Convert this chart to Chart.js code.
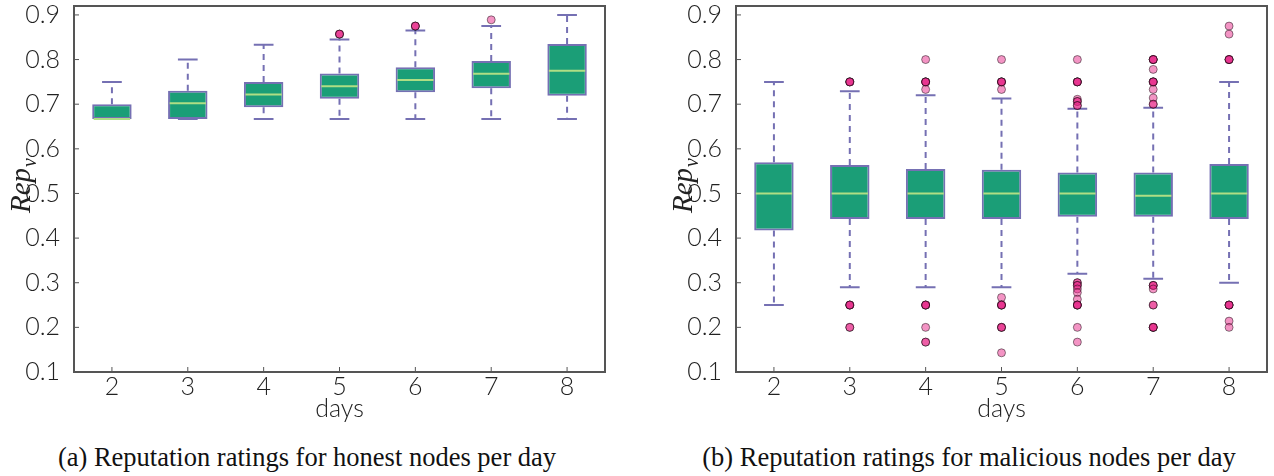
<!DOCTYPE html>
<html>
<head>
<meta charset="utf-8">
<script src="https://cdn.jsdelivr.net/npm/chart.js@4.4.0/dist/chart.umd.min.js"></script>
<style>
  html, body { margin: 0; padding: 0; background: #fff; }
  body { width: 1274px; height: 476px; position: relative; overflow: hidden; }
  .panel { position: absolute; top: 0; width: 637px; height: 430px; }
  .caption {
    position: absolute; top: 442px; line-height: 30px;
    font-family: "Liberation Serif", serif; font-size: 26.5px; color: #111;
    white-space: nowrap; transform: translateX(-50%);
  }
</style>
</head>
<body>
<div class="panel" style="left:0"><canvas id="honestChart" width="637" height="430"></canvas></div>
<div class="panel" style="left:662px"><canvas id="maliciousChart" width="637" height="430"></canvas></div>
<div class="caption" style="left:307px">(a) Reputation ratings for honest nodes per day</div>
<div class="caption" style="left:969px">(b) Reputation ratings for malicious nodes per day</div>

<script>
// --- DATA ---
const days = ['2', '3', '4', '5', '6', '7', '8'];
const yTicks = [0.1, 0.2, 0.3, 0.4, 0.5, 0.6, 0.7, 0.8, 0.9];

// honest nodes
const honestLow = [0.667, 0.667, 0.667, 0.667, 0.667, 0.667, 0.667];
const honestQ1 = [0.667, 0.667, 0.693, 0.712, 0.727, 0.736, 0.719];
const honestMedian = [0.667, 0.702, 0.722, 0.740, 0.754, 0.768, 0.775];
const honestQ3 = [0.700, 0.730, 0.750, 0.769, 0.783, 0.797, 0.835];
const honestHigh = [0.750, 0.800, 0.833, 0.845, 0.865, 0.875, 0.900];
// [day, value, how many points overlap there]
const honestOutliers = [[5, 0.857, 3], [6, 0.875, 3], [7, 0.889, 1]];

// malicious nodes
const maliciousLow = [0.250, 0.290, 0.290, 0.290, 0.320, 0.309, 0.300];
const maliciousQ1 = [0.417, 0.443, 0.443, 0.443, 0.448, 0.448, 0.443];
const maliciousMedian = [0.500, 0.500, 0.500, 0.500, 0.500, 0.495, 0.500];
const maliciousQ3 = [0.570, 0.564, 0.555, 0.553, 0.547, 0.547, 0.566];
const maliciousHigh = [0.750, 0.729, 0.720, 0.713, 0.690, 0.692, 0.750];
const maliciousOutliers = [
    [3, 0.75, 4], [3, 0.25, 4], [3, 0.2, 2],
    [4, 0.8, 1], [4, 0.75, 4], [4, 0.733, 1], [4, 0.25, 4], [4, 0.2, 1], [4, 0.167, 2],
    [5, 0.8, 1], [5, 0.75, 4], [5, 0.733, 1], [5, 0.267, 1], [5, 0.25, 4], [5, 0.2, 3], [5, 0.143, 1],
    [6, 0.8, 1], [6, 0.75, 4], [6, 0.711, 1], [6, 0.706, 2], [6, 0.697, 2],
    [6, 0.3, 2], [6, 0.294, 2], [6, 0.286, 1], [6, 0.278, 1], [6, 0.263, 1], [6, 0.25, 4], [6, 0.2, 1], [6, 0.167, 1],
    [7, 0.8, 4], [7, 0.778, 1], [7, 0.75, 4], [7, 0.733, 1], [7, 0.714, 1], [7, 0.7, 2],
    [7, 0.294, 3], [7, 0.286, 1], [7, 0.25, 2], [7, 0.2, 4],
    [8, 0.875, 1], [8, 0.857, 1], [8, 0.8, 4], [8, 0.25, 4], [8, 0.214, 1], [8, 0.2, 1]
];

// --- STYLE ---
const BOX_FILL = '#1b9e77';
const BOX_EDGE = '#7570b3';
const MEDIAN_COLOR = '#b0de84';
const FRAME_COLOR = '#555';
const TICK_FONT = { family: 'Lato', size: 25, weight: '300' };

// one box-plot plugin per chart, holding that chart's stats
const makeBoxPlugin = (stats) => ({
    id: 'boxPlot',
    beforeDatasetsDraw(chart) {
        const { ctx } = chart;
        const y = chart.scales.y;
        const bars = chart.getDatasetMeta(0).data;
        ctx.save();
        ctx.strokeStyle = BOX_EDGE;
        ctx.lineWidth = 2;
        bars.forEach((bar, i) => {
            const cx = bar.x;
            const capHalf = bar.width / 4;
            // dashed whiskers
            ctx.setLineDash([6, 5]);
            ctx.beginPath();
            ctx.moveTo(cx, y.getPixelForValue(stats.q3[i]));
            ctx.lineTo(cx, y.getPixelForValue(stats.high[i]));
            ctx.moveTo(cx, y.getPixelForValue(stats.q1[i]));
            ctx.lineTo(cx, y.getPixelForValue(stats.low[i]));
            ctx.stroke();
            // caps
            ctx.setLineDash([]);
            ctx.beginPath();
            [stats.high[i], stats.low[i]].forEach(v => {
                const py = y.getPixelForValue(v);
                ctx.moveTo(cx - capHalf, py);
                ctx.lineTo(cx + capHalf, py);
            });
            ctx.stroke();
        });
        ctx.restore();
    },
    afterDatasetDraw(chart, args) {
        if (args.index !== 0) return;
        const { ctx } = chart;
        const y = chart.scales.y;
        ctx.save();
        ctx.strokeStyle = MEDIAN_COLOR;
        ctx.lineWidth = 2;
        chart.getDatasetMeta(0).data.forEach((bar, i) => {
            const py = y.getPixelForValue(stats.median[i]);
            ctx.beginPath();
            ctx.moveTo(bar.x - bar.width / 2 + 1.5, py);
            ctx.lineTo(bar.x + bar.width / 2 - 1.5, py);
            ctx.stroke();
        });
        ctx.restore();
    },
    afterDraw(chart) {
        const { ctx, chartArea } = chart;
        const x = chart.scales.x, y = chart.scales.y;
        ctx.save();
        // frame
        ctx.strokeStyle = FRAME_COLOR;
        ctx.lineWidth = 2;
        ctx.strokeRect(chartArea.left, chartArea.top, chartArea.right - chartArea.left, chartArea.bottom - chartArea.top);
        // inward ticks
        ctx.lineWidth = 1;
        ctx.beginPath();
        days.forEach((d, i) => {
            const px = x.getPixelForValue(i);
            ctx.moveTo(px, chartArea.bottom);
            ctx.lineTo(px, chartArea.bottom - 5);
        });
        yTicks.forEach(v => {
            const py = y.getPixelForValue(v);
            ctx.moveTo(chartArea.left, py);
            ctx.lineTo(chartArea.left + 5, py);
        });
        ctx.stroke();
        // y title: Rep_v
        ctx.translate(22, 186);
        ctx.rotate(-Math.PI / 2);
        ctx.fillStyle = '#222';
        ctx.textBaseline = 'alphabetic';
        ctx.font = 'italic 29px "Liberation Serif"';
        const mainW = ctx.measureText('Rep').width;
        ctx.font = 'italic 20px "Liberation Serif"';
        const subW = ctx.measureText('v').width;
        const start = -(mainW + subW) / 2;
        ctx.font = 'italic 29px "Liberation Serif"';
        ctx.fillText('Rep', start, 8);
        ctx.font = 'italic 20px "Liberation Serif"';
        ctx.fillText('v', start + mainW + 1, 14);
        ctx.restore();
    }
});

const expandOutliers = (list) => {
    const pts = [];
    list.forEach(([day, value, count]) => {
        for (let k = 0; k < count; k++) pts.push({ x: String(day), y: value });
    });
    return pts;
};

const createBoxChart = (canvasId, stats, outliers) => {
    const ctx = document.getElementById(canvasId).getContext('2d');
    return new Chart(ctx, {
        type: 'bar',
        data: {
            labels: days,
            datasets: [
                {
                    type: 'bar',
                    data: stats.q1.map((lo, i) => [lo, stats.q3[i]]),
                    backgroundColor: BOX_FILL,
                    borderColor: BOX_EDGE,
                    borderWidth: 2,
                    borderSkipped: false,
                    categoryPercentage: 1,
                    barPercentage: 0.52,
                    order: 2
                },
                {
                    type: 'scatter',
                    data: expandOutliers(outliers),
                    pointRadius: 4,
                    pointBorderWidth: 1,
                    pointBackgroundColor: 'rgba(231, 41, 138, 0.5)',
                    pointBorderColor: 'rgba(0, 0, 0, 0.45)',
                    order: 1
                }
            ]
        },
        options: {
            responsive: false,
            animation: false,
            layout: { padding: { top: 6, right: 32, bottom: 8, left: 0 } },
            plugins: { legend: { display: false }, tooltip: { enabled: false } },
            scales: {
                x: {
                    type: 'category',
                    offset: true,
                    grid: { display: false },
                    border: { display: false },
                    ticks: { color: '#222', font: TICK_FONT, padding: -8, maxRotation: 0 },
                    title: { display: true, text: 'days', color: '#222', font: TICK_FONT, padding: { top: 0, bottom: -2 } },
                    afterFit: (scale) => { scale.height = 50; }
                },
                y: {
                    min: 0.1,
                    max: 0.92,
                    grid: { display: false },
                    border: { display: false },
                    afterBuildTicks: (scale) => { scale.ticks = yTicks.map(v => ({ value: v })); },
                    ticks: {
                        color: '#222', font: TICK_FONT, padding: 6,
                        callback: (v) => Number(v).toFixed(1)
                    },
                    afterFit: (scale) => {
                        scale.width = 74;
                        scale.paddingTop = 0;
                        scale.paddingBottom = 0;
                    }
                }
            }
        },
        plugins: [makeBoxPlugin(stats)]
    });
};

createBoxChart('honestChart',
    { low: honestLow, q1: honestQ1, median: honestMedian, q3: honestQ3, high: honestHigh },
    honestOutliers);
createBoxChart('maliciousChart',
    { low: maliciousLow, q1: maliciousQ1, median: maliciousMedian, q3: maliciousQ3, high: maliciousHigh },
    maliciousOutliers);
</script>
</body>
</html>
